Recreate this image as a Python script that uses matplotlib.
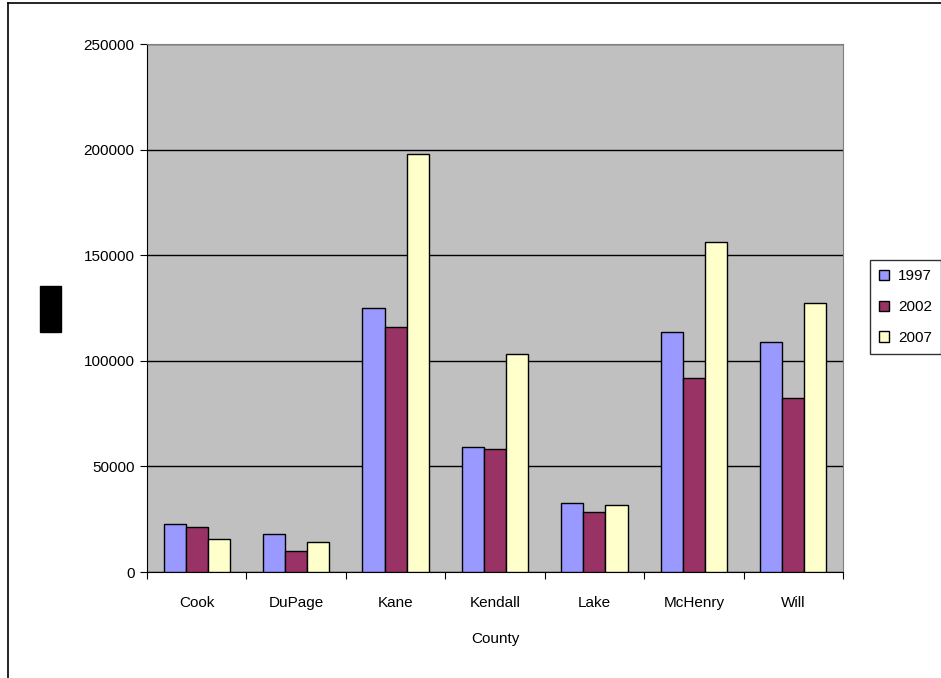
import matplotlib
matplotlib.use('Agg')
import matplotlib.pyplot as plt
import numpy as np
from matplotlib.patches import Rectangle
from matplotlib.lines import Line2D

plt.rcParams['font.family'] = ['Liberation Sans', 'DejaVu Sans']

counties = ['Cook', 'DuPage', 'Kane', 'Kendall', 'Lake', 'McHenry', 'Will']
years = ['1997', '2002', '2007']
vals_1997 = [22600, 17800, 125100, 59300, 32700, 113500, 108900]
vals_2002 = [21300, 9800, 115800, 58100, 28300, 91900, 82400]
vals_2007 = [15500, 14400, 197800, 103200, 31600, 156100, 127400]
y_ticks = [0, 50000, 100000, 150000, 200000, 250000]

COLORS = ['#9999FF', '#993366', '#FFFFCC']

fig = plt.figure(figsize=(9.41, 6.78), dpi=100)
ax = fig.add_axes([147 / 941, 1 - 572 / 678, 696 / 941, 528 / 678])
ax.set_facecolor('#C0C0C0')

x = np.arange(len(counties))
w = 1 / 4.5
series = [vals_1997, vals_2002, vals_2007]
for i, vals in enumerate(series):
    ax.bar(x + (i - 1) * w, vals, width=w, color=COLORS[i], edgecolor='black',
           linewidth=1, label=years[i], zorder=3)

ax.set_xlim(-0.5, len(counties) - 0.5)
ax.set_ylim(0, 250000)
ax.set_yticks(y_ticks)
ax.set_yticklabels([str(v) for v in y_ticks], fontsize=11)
ax.yaxis.grid(True, color='black', linewidth=1, zorder=1)
ax.set_axisbelow(True)

ax.set_xticks(np.arange(len(counties) + 1) - 0.5)
ax.set_xticklabels([])
ax.set_xticks(x, minor=True)
ax.set_xticklabels(counties, minor=True, fontsize=11)
ax.tick_params(axis='x', which='minor', length=0, pad=17)
ax.tick_params(axis='x', which='major', length=5, color='black', direction='out')
ax.tick_params(axis='y', length=5, color='black', direction='out', pad=4)
ax.set_xlabel('County', fontsize=11, labelpad=16)

for s in ['top', 'right']:
    ax.spines[s].set_color('#808080')
for s in ['left', 'bottom']:
    ax.spines[s].set_color('black')

leg = fig.legend(loc='center left', bbox_to_anchor=(870 / 941, 1 - 307 / 678),
                 fontsize=11, frameon=True, fancybox=False, edgecolor='black',
                 handlelength=0.65, handleheight=0.65, handletextpad=0.6,
                 labelspacing=1.1, borderpad=0.6, borderaxespad=0)
leg.get_frame().set_linewidth(1)

# redacted axis title block
fig.patches.append(Rectangle((40 / 941, 1 - 332 / 678), 21 / 941, 46 / 678,
                             transform=fig.transFigure, color='black'))

# outer chart border
fig.add_artist(Line2D([8 / 941, 8 / 941], [0, 1 - 3 / 678], color='black', linewidth=1.2))
fig.add_artist(Line2D([8 / 941, 1], [1 - 3 / 678, 1 - 3 / 678], color='black', linewidth=1.2))

fig.savefig('out.png', dpi=100)
